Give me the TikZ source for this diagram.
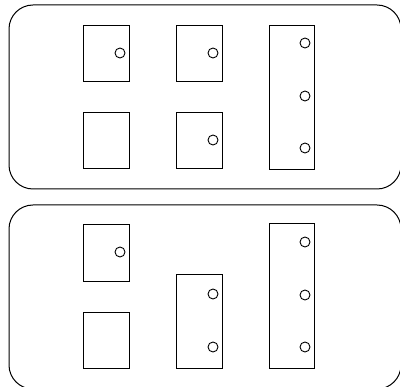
\documentclass[tikz,border=0pt]{standalone}
\begin{document}
\begin{tikzpicture}[x=1pt,y=-1pt,
  frame/.style={inner sep=0pt,minimum width=392pt,minimum height=184pt},
  outline/.style={draw,line width=1pt},
  box/.style={draw,line width=0.9pt,inner sep=0pt,minimum width=46pt},
  hole/.style={draw,line width=0.9pt,circle,inner sep=0pt,minimum size=10pt}]
\useasboundingbox (0,0) rectangle (400,387);
\clip (0,0) rectangle (400,387);
\fill[white] (0,0) rectangle (400,387);
% top panel
\node[frame] (f1) at (205,97) {};
\draw[outline] (9,29) arc[start angle=180,end angle=90,radius=24pt] -- (377,5)
  arc[start angle=90,end angle=0,radius=24pt] -- (401,165)
  arc[start angle=0,end angle=-90,radius=24pt] -- (33,189)
  arc[start angle=-90,end angle=-180,radius=24pt] -- cycle;
\node[box,minimum height=56pt] (a1) at (106,53) {};
\node[box,minimum height=56pt] (a2) at (199,53) {};
\node[box,minimum height=56pt] (a3) at (106,140) {};
\node[box,minimum height=56pt] (a4) at (199,140) {};
\node[box,minimum width=45pt,minimum height=144pt] (a5) at (291.5,97) {};
\node[hole] (h1) at (120,53) {};
\node[hole] (h2) at (213,53) {};
\node[hole] (h3) at (213,140) {};
\node[hole] (h4) at (305,43) {};
\node[hole] (h5) at (305,96) {};
\node[hole] (h6) at (305,148) {};
% bottom panel
\node[frame] (f2) at (205,297) {};
\draw[outline] (9,229) arc[start angle=180,end angle=90,radius=24pt] -- (377,205)
  arc[start angle=90,end angle=0,radius=24pt] -- (401,365)
  arc[start angle=0,end angle=-90,radius=24pt] -- (33,389)
  arc[start angle=-90,end angle=-180,radius=24pt] -- cycle;
\node[box,minimum height=57pt] (b1) at (106,252.5) {};
\node[box,minimum height=56pt] (b2) at (106,340) {};
\node[box,minimum height=94pt] (b3) at (199,321) {};
\node[box,minimum width=45pt,minimum height=145pt] (b4) at (291.5,295.5) {};
\node[hole] (k1) at (120,252) {};
\node[hole] (k2) at (213,294) {};
\node[hole] (k3) at (213,347) {};
\node[hole] (k4) at (305,242) {};
\node[hole] (k5) at (305,295) {};
\node[hole] (k6) at (305,347) {};
\end{tikzpicture}
\end{document}
